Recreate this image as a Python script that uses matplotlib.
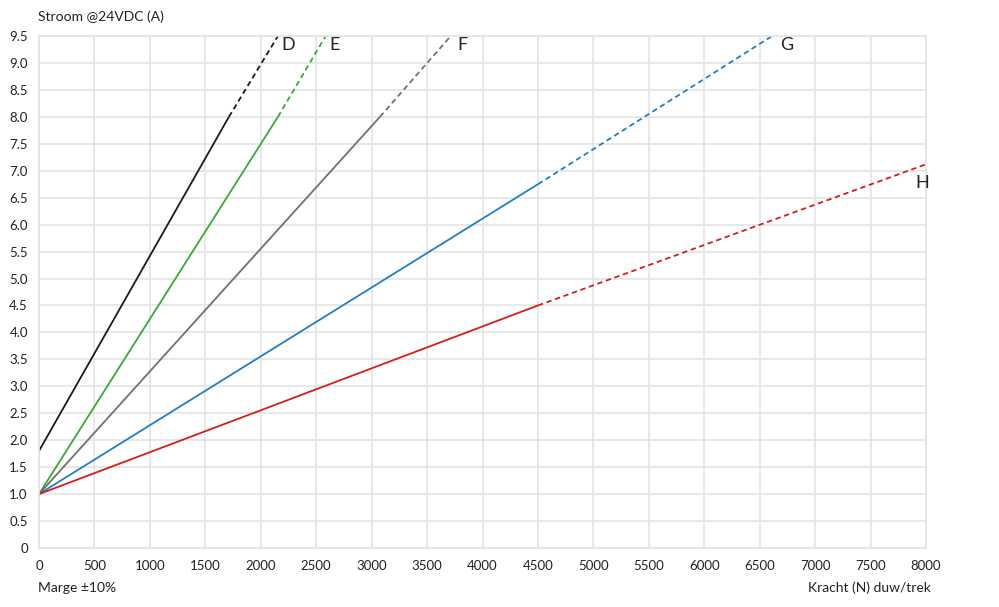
import matplotlib.pyplot as plt
import numpy as np

plt.rcParams['font.family'] = ['Lato', 'DejaVu Sans']

# lines: start, end of solid part, end of dashed part (force N, current A)
names = ["D", "E", "F", "G", "H"]
colors = ["#1a1a1a", "#3aa935", "#707070", "#1f7fc4", "#d61e1e"]
solid_x = [[0, 1713], [0, 2155], [0, 3075], [0, 4500], [0, 4500]]
solid_y = [[1.8, 8.0], [1.0, 8.0], [1.0, 8.0], [1.0, 6.75], [1.0, 4.5]]
dash_x = [[1713, 2170], [2155, 2600], [3075, 3735], [4500, 6650], [4500, 8000]]
dash_y = [[8.0, 9.55], [8.0, 9.55], [8.0, 9.55], [6.75, 9.55], [4.5, 7.12]]
label_x = [2190, 2620, 3770, 6680, 7900]
label_y = [9.33, 9.33, 9.33, 9.33, 6.78]

xticks = np.arange(0, 8001, 500)
yticks = np.arange(0, 9.51, 0.5)
ylabels = ["0"] + ["%.1f" % v for v in yticks[1:]]

fig = plt.figure(figsize=(9.99, 6.07), dpi=100)
ax = fig.add_axes([0.039, 0.0972, 0.888, 0.8435])

for i in range(len(names)):
    ax.plot(solid_x[i], solid_y[i], color=colors[i], lw=1.3, solid_capstyle='butt')
    ax.plot(dash_x[i], dash_y[i], color=colors[i], lw=1.3, ls=(0, (3, 2)))
    ax.text(label_x[i], label_y[i], names[i], fontsize=13, color="#222222",
            ha='left', va='center')

ax.set_xlim(0, 8000)
ax.set_ylim(0, 9.5)
ax.set_xticks(xticks)
ax.set_yticks(yticks)
ax.set_yticklabels(ylabels)
ax.grid(True, color="#e4e4e4", lw=1.2)
ax.set_axisbelow(True)
for s in ax.spines.values():
    s.set_color("#e4e4e4")
    s.set_linewidth(1.2)
ax.tick_params(length=0, labelsize=9.5, colors="#222222")
ax.tick_params(axis='x', pad=9)
ax.tick_params(axis='y', pad=8)

fig.text(0.038, 0.972, "Stroom @24VDC (A)", fontsize=10, color="#222222", va='center')
fig.text(0.038, 0.031, "Marge \u00b110%", fontsize=10, color="#222222", va='center')
fig.text(0.932, 0.031, "Kracht (N) duw/trek", fontsize=10, color="#222222",
         va='center', ha='right')

fig.savefig("out.png", dpi=100)
